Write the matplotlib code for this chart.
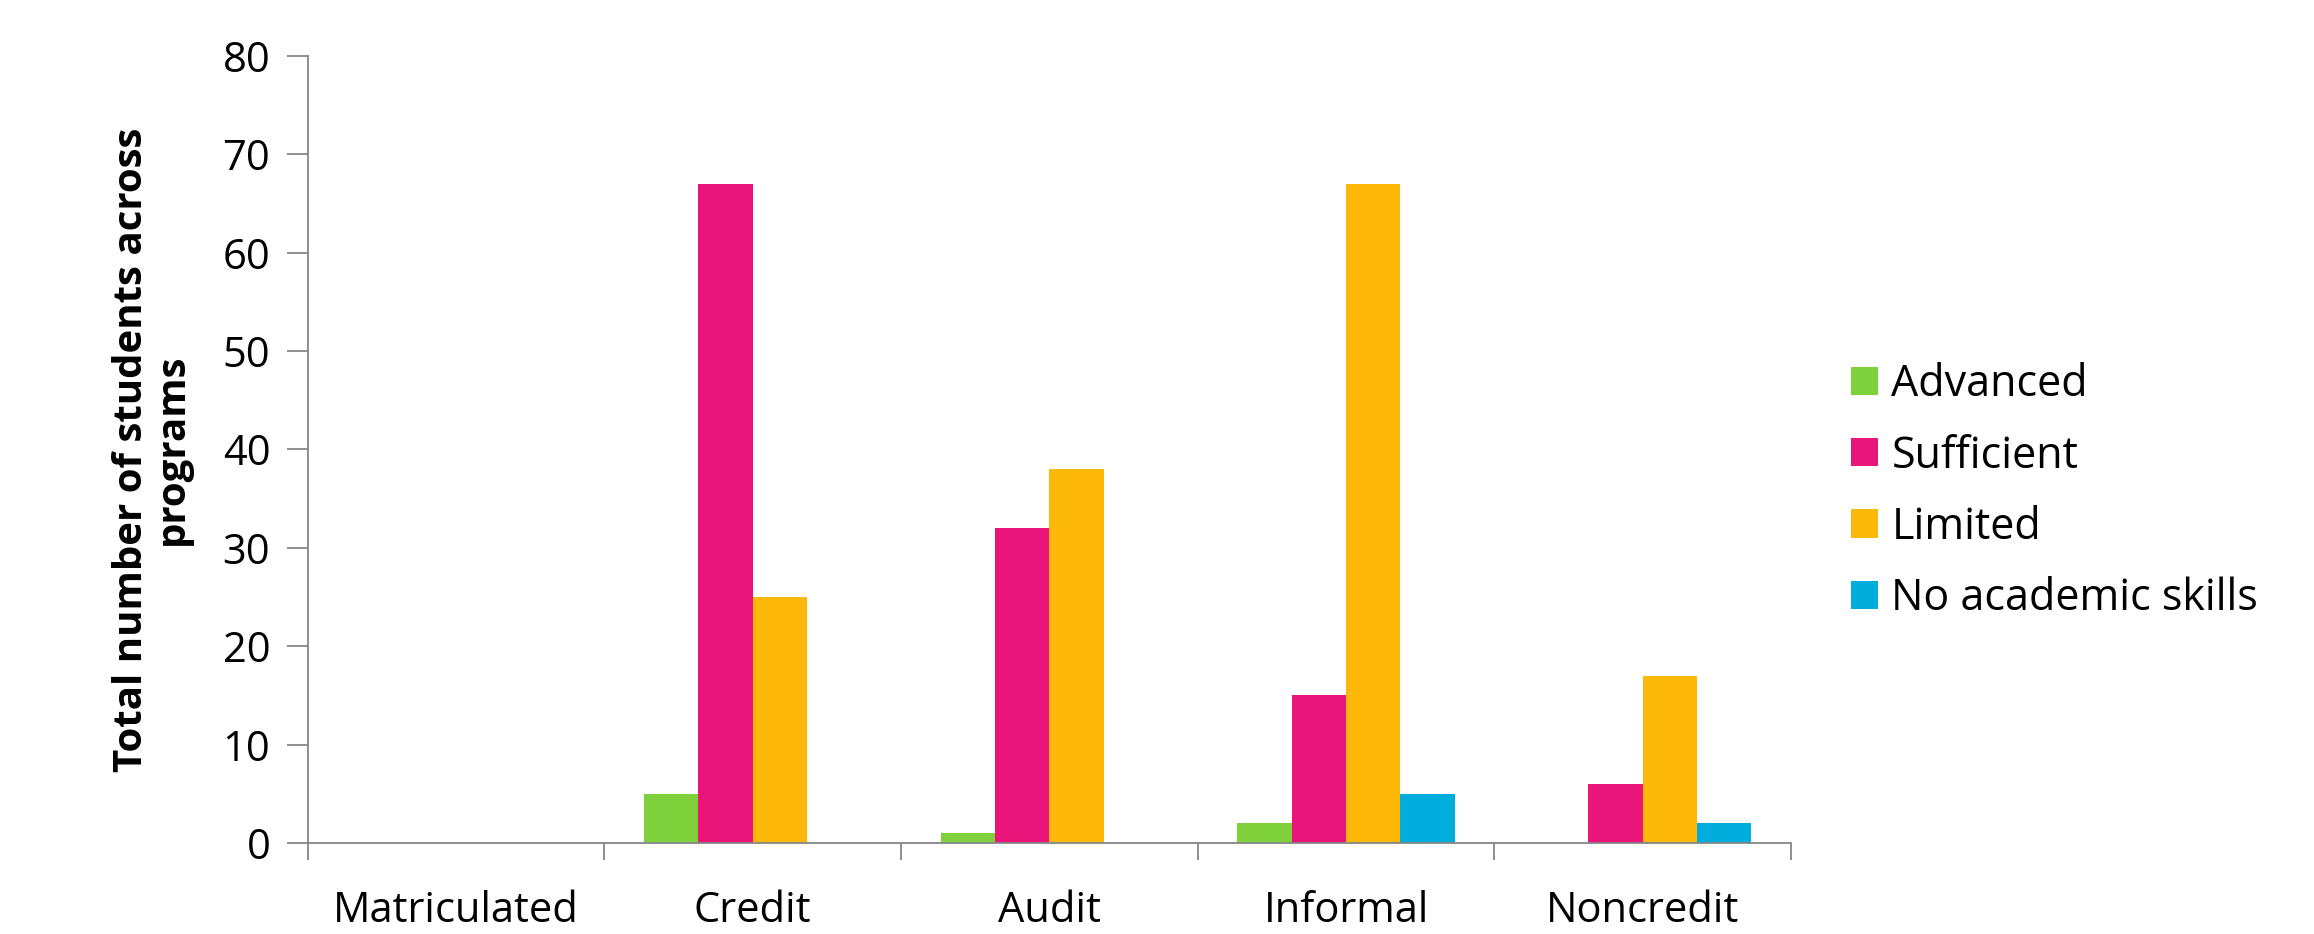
import matplotlib
matplotlib.use('Agg')
import matplotlib.pyplot as plt
import numpy as np

# data
programs = ['Matriculated', 'Credit', 'Audit', 'Informal', 'Noncredit']
levels = ['Advanced', 'Sufficient', 'Limited', 'No academic skills']
advanced = [0, 5, 1, 2, 0]
sufficient = [0, 67, 32, 15, 6]
limited = [0, 25, 38, 67, 17]
no_skills = [0, 0, 0, 5, 2]
colors = ['#7FD13B', '#EA157A', '#FEB80A', '#00ADDC']

plt.rcParams['font.family'] = ['Open Sans', 'DejaVu Sans']

fig = plt.figure(figsize=(23.14, 9.34), dpi=100)
ax = fig.add_axes([0.133, 0.0974, 0.641, 0.843])

x = np.arange(len(programs))
width = 0.183
series = [advanced, sufficient, limited, no_skills]
for i, (vals, lab, col) in enumerate(zip(series, levels, colors)):
    ax.bar(x + (i - 1.5) * width, vals, width, color=col, label=lab)

ax.set_xlim(-0.5, len(programs) - 0.5)
ax.set_ylim(0, 80)
ax.set_yticks(range(0, 81, 10))
ax.set_xticks(x)
ax.set_xticklabels(programs, fontsize=30)
ax.set_xticks(np.arange(-0.5, len(programs), 1), minor=True)
ax.tick_params(axis='x', which='major', length=0, pad=34)
ax.tick_params(axis='x', which='minor', length=12, color='#868686', width=1.3)
ax.tick_params(axis='y', length=15, color='#868686', width=1.3, labelsize=30, pad=12)

for s in ['top', 'right']:
    ax.spines[s].set_visible(False)
for s in ['left', 'bottom']:
    ax.spines[s].set_color('#868686')
    ax.spines[s].set_linewidth(1.3)

ax.set_ylabel('Total number of students across\nprograms', fontsize=29,
              fontweight='bold', labelpad=22, linespacing=1.05)

ax.legend(loc='center left', bbox_to_anchor=(1.0, 0.446), frameon=False,
          fontsize=31, handlelength=0.63, handleheight=0.63,
          handletextpad=0.3, labelspacing=0.62, borderaxespad=1.0)

fig.savefig('out.png', dpi=100)
